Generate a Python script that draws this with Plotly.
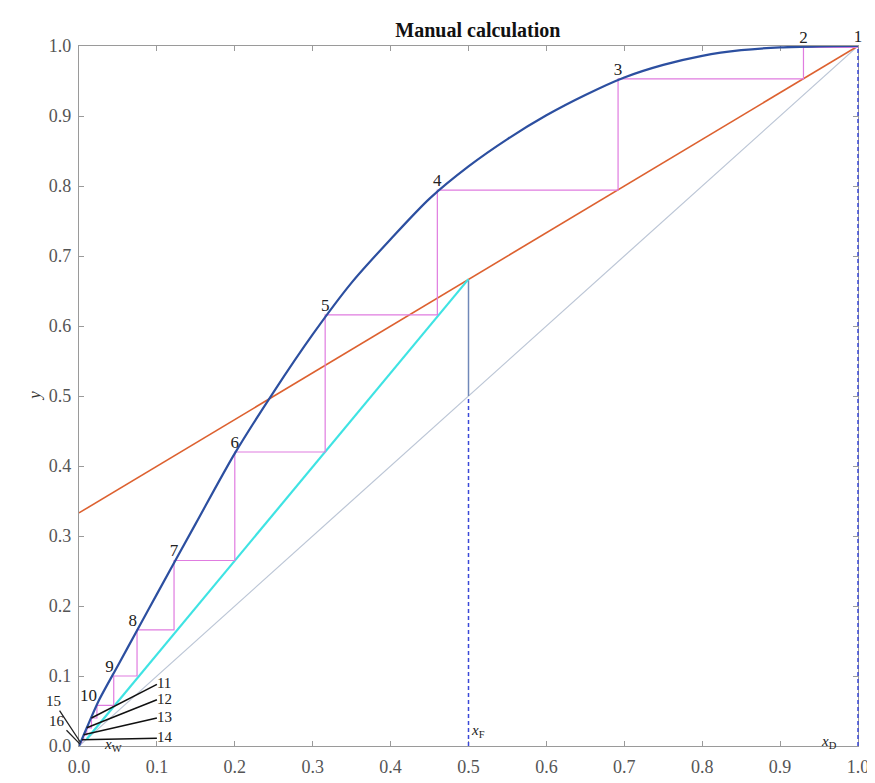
import plotly.graph_objects as go

# ---- data ----
eq_x = [0.0, 0.01, 0.025, 0.05, 0.075, 0.1, 0.15, 0.2, 0.25, 0.3, 0.35, 0.4, 0.45,
        0.5, 0.55, 0.6, 0.65, 0.7, 0.75, 0.8, 0.85, 0.9, 0.95, 1.0]
eq_y = [0.0, 0.026, 0.064, 0.115, 0.166, 0.217, 0.318, 0.418, 0.506, 0.588, 0.662, 0.724, 0.782,
        0.828, 0.867, 0.901, 0.930, 0.955, 0.973, 0.986, 0.994, 0.998, 0.9995, 1.0]

diag_x = [0.0, 1.0]
diag_y = [0.0, 1.0]

rect_x = [0.0, 1.0]          # rectifying operating line
rect_y = [0.333, 1.0]

strip_x = [0.01, 0.5]        # stripping operating line
strip_y = [0.01, 0.667]

stage_x = [1.0, 0.93, 0.692, 0.46, 0.316, 0.2, 0.122, 0.0745, 0.0446, 0.023,
           0.016, 0.01, 0.006, 0.0035, 0.002, 0.001]
stage_y = [1.0, 0.998, 0.953, 0.794, 0.616, 0.42, 0.265, 0.166, 0.1, 0.058,
           0.04, 0.026, 0.016, 0.009, 0.005, 0.003]
stage_labels = [str(i) for i in range(1, 17)]

# leader-label positions for stages 11-14 (right) and 15-16 (left)
lead_r_x = [0.1, 0.1, 0.1, 0.1]
lead_r_y = [0.088, 0.066, 0.04, 0.011]
lead_l_x = [-0.033, -0.028]
lead_l_y = [0.064, 0.036]

xF, yF_diag, yF_op = 0.5, 0.5, 0.667
xD = 1.0
X_RANGE = [0.0, 1.0]
Y_RANGE = [0.0, 1.0]

SERIF = "Liberation Serif, Times New Roman, DejaVu Serif, serif"

fig = go.Figure()

# diagonal
fig.add_trace(go.Scatter(x=diag_x, y=diag_y, mode="lines",
                         line=dict(color="#BCC6D6", width=1.2), hoverinfo="skip"))
# dashed feed vertical
fig.add_trace(go.Scatter(x=[xF, xF], y=[0, yF_diag], mode="lines",
                         line=dict(color="#3A48D8", width=1.5, dash="4px,3px")))
# dashed distillate vertical (sits on the axis edge -> draw unclipped as a shape)
xD_paper = (xD - X_RANGE[0]) / (X_RANGE[1] - X_RANGE[0])
fig.add_shape(type="line", xref="paper", yref="paper", x0=xD_paper, x1=xD_paper,
              y0=0, y1=1, layer="above",
              line=dict(color="#3A48D8", width=1.5, dash="4px,3px"))
# feed line (q-line)
fig.add_trace(go.Scatter(x=[xF, xF], y=[yF_diag, yF_op], mode="lines",
                         line=dict(color="#7088B8", width=1.5)))
# operating lines
fig.add_trace(go.Scatter(x=rect_x, y=rect_y, mode="lines",
                         line=dict(color="#DD6130", width=1.6)))
fig.add_trace(go.Scatter(x=strip_x, y=strip_y, mode="lines",
                         line=dict(color="#3FE3E3", width=2.2)))

# stairs
sx, sy = [stage_x[0]], [stage_y[0]]
for i in range(1, len(stage_x)):
    sx += [stage_x[i - 1], stage_x[i]]
    sy += [stage_y[i], stage_y[i]]
fig.add_trace(go.Scatter(x=sx, y=sy, mode="lines",
                         line=dict(color="#E07CE0", width=1.2)))

# equilibrium curve
fig.add_trace(go.Scatter(x=eq_x, y=eq_y, mode="lines", line_shape="spline",
                         line=dict(color="#2C4FA0", width=2.2, smoothing=0.8)))

# leader lines 11-14
for k in range(4):
    i = 10 + k
    fig.add_trace(go.Scatter(x=[stage_x[i], lead_r_x[k]], y=[stage_y[i], lead_r_y[k]],
                             mode="lines", line=dict(color="#111111", width=1.5)))

# stage labels 1-10
pos = ["top center"] * 7 + ["top left"] * 3
fig.add_trace(go.Scatter(x=stage_x[:10], y=stage_y[:10], mode="text",
                         text=stage_labels[:10], textposition=pos, cliponaxis=False,
                         textfont=dict(family=SERIF, size=17, color="#222222")))
# labels 11-14
fig.add_trace(go.Scatter(x=lead_r_x, y=lead_r_y, mode="text",
                         text=stage_labels[10:14], textposition="middle right",
                         cliponaxis=False,
                         textfont=dict(family=SERIF, size=15, color="#222222")))

# labels 15-16 with leaders
for k in range(2):
    i = 14 + k
    fig.add_annotation(x=stage_x[i], y=stage_y[i], ax=lead_l_x[k], ay=lead_l_y[k],
                       axref="x", ayref="y", xref="x", yref="y",
                       text=stage_labels[i], showarrow=True, arrowhead=0,
                       arrowwidth=1.3, arrowcolor="#222222", standoff=0,
                       font=dict(family=SERIF, size=15, color="#222222"))

# x_F, x_D, x_W labels
fig.add_annotation(x=xF, y=0.022, text="<i>x</i><sub>F</sub>", showarrow=False,
                   xanchor="left", font=dict(family=SERIF, size=15, color="#222222"))
fig.add_annotation(x=0.95, y=0.006, text="<i>x</i><sub>D</sub>", showarrow=False,
                   xanchor="left", font=dict(family=SERIF, size=15, color="#222222"))
fig.add_annotation(xref="paper", yref="paper", x=0.03, y=-0.014, text="<i>x</i><sub>W</sub>",
                   showarrow=False, font=dict(family=SERIF, size=15, color="#222222"))

# axis titles
fig.add_annotation(xref="paper", yref="paper", x=-0.073, y=0.5, text="<i>y</i>",
                   showarrow=False, textangle=-90,
                   font=dict(family=SERIF, size=17, color="#333333"))
fig.add_annotation(xref="paper", yref="paper", x=0.503, y=-0.044, text="<i>x</i>",
                   showarrow=False, yanchor="top",
                   font=dict(family=SERIF, size=15, color="#333333"))

axis_common = dict(dtick=0.1, tick0=0, tickformat=".1f",
                   showgrid=False, zeroline=False, showline=True, mirror="ticks",
                   linecolor="#9A9A9A", linewidth=1.2, ticks="inside", ticklen=5,
                   tickcolor="#9A9A9A", tickwidth=1, layer="below traces",
                   tickfont=dict(family=SERIF, size=18, color="#555555"))

fig.update_layout(
    width=875, height=783,
    margin=dict(l=71, r=25, t=38, b=45),
    paper_bgcolor="white", plot_bgcolor="white",
    showlegend=False,
    font=dict(family=SERIF),
    title=dict(text="<b>Manual calculation</b>", x=0.512, xref="paper",
               y=1 - 22 / 783, yref="container", xanchor="center", yanchor="middle",
               font=dict(family=SERIF, size=20, color="#111111")),
    xaxis=dict(**axis_common, range=X_RANGE, ticklabelstandoff=4),
    yaxis=dict(**axis_common, range=Y_RANGE, ticklabelstandoff=3),
)

fig.write_html("out.html")
